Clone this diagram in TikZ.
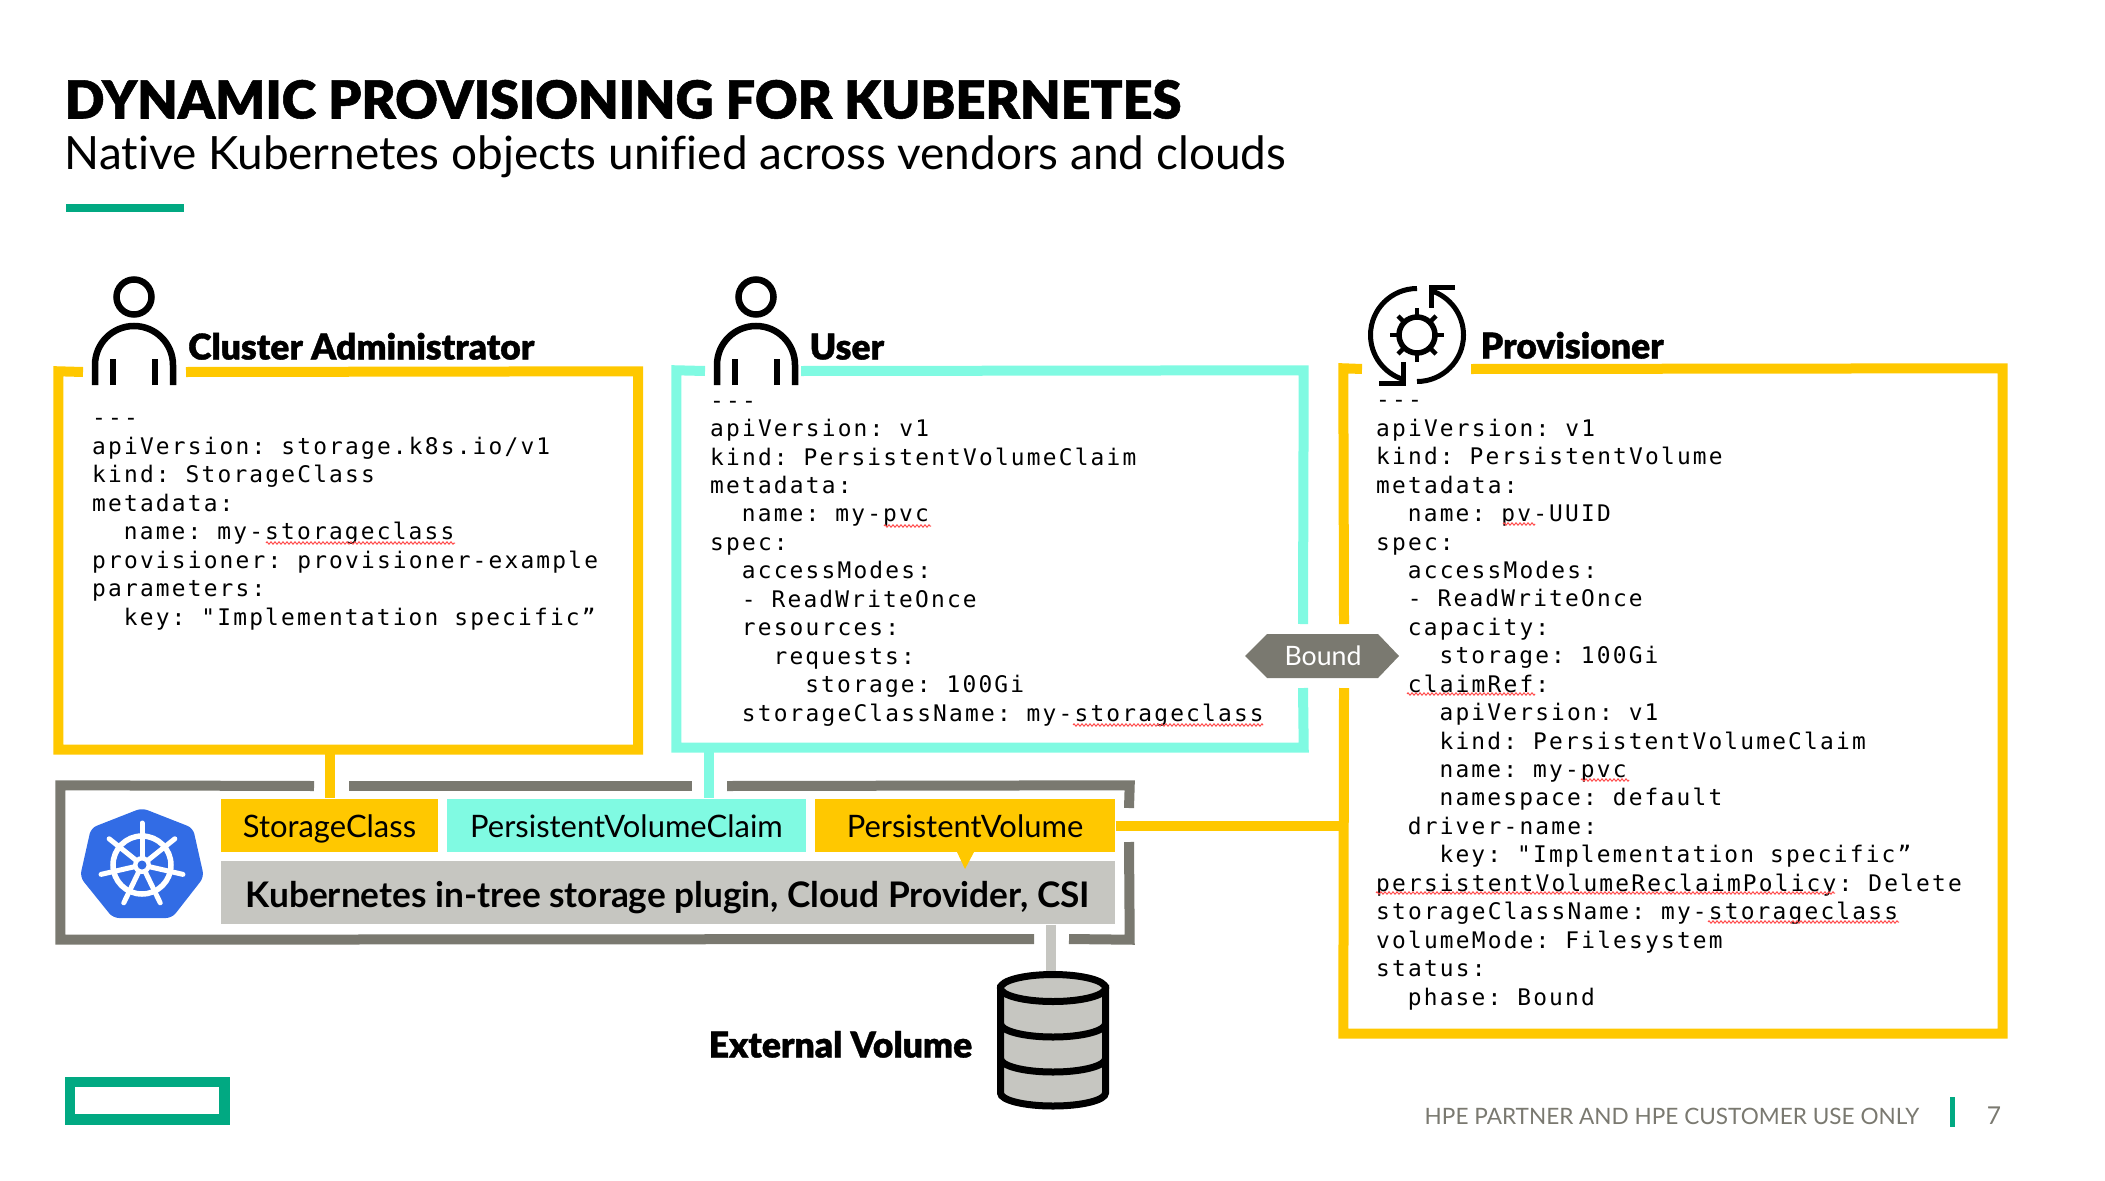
\documentclass[tikz,border=0pt]{standalone}
\usepackage{fontspec}
\usetikzlibrary{decorations.pathmorphing}
\setmainfont{Lato}[Ligatures={TeX,NoCommon}]
\newfontfamily\heavyfont[FakeBold=1]{Lato Black}
\newfontfamily\yamlfont[LetterSpace=9.6]{DejaVu Sans Mono}
\definecolor{hpeyellow}{HTML}{FFC800}
\definecolor{hpeteal}{HTML}{80FAE2}
\definecolor{hpegray}{HTML}{7A7970}
\definecolor{hpelight}{HTML}{C6C6C1}
\definecolor{hpegreen}{HTML}{01A982}
\definecolor{kubeblue}{HTML}{326CE5}
\newcommand{\yamltab}{\hspace*{0.317cm}}
\tikzset{
  framenode/.style={rectangle,inner sep=0pt,minimum width=#1},
  yellowline/.style={draw=hpeyellow,line width=0.1cm},
  tealline/.style={draw=hpeteal,line width=0.1cm},
  grayline/.style={draw=hpegray,line width=0.1cm},
  lightline/.style={draw=hpelight,line width=0.1cm},
  tabnode/.style={rectangle,inner sep=0pt,minimum height=0.53cm,text height=0.28cm,text depth=0.05cm,font=\fontsize{8.8}{10}\selectfont},
  yamltext/.style={anchor=base west,inner sep=0pt,align=left,font=\yamlfont\frenchspacing\fontsize{6.5}{8.09}\selectfont},
  heading/.style={anchor=base west,inner sep=0pt,font=\heavyfont\fontsize{10.1}{12}\selectfont},
  spellmark/.style={draw=red!70!white,line width=0.01cm,decorate,decoration={zigzag,amplitude=0.012cm,segment length=0.04cm}},
  iconline/.style={draw=black,line width=0.065cm},
}
\newcommand{\personicon}[1]{
  \begin{scope}[shift={#1}]
    \draw[iconline] (0,0) circle (0.175);
    \draw[iconline] (-0.39,-0.88) -- (-0.39,-0.68) arc[start angle=180,end angle=0,radius=0.39] -- (0.39,-0.88);
    \draw[iconline] (-0.21,-0.88) -- (-0.21,-0.62);
    \draw[iconline] (0.21,-0.88) -- (0.21,-0.62);
  \end{scope}
}

\begin{document}
\begin{tikzpicture}
\useasboundingbox (0,0) rectangle (21.05,-11.81);
%Title
\node[anchor=base west,inner sep=0pt,font=\heavyfont\fontsize{14.9}{18}\selectfont] (title) at (0.64,-1.185) {DYNAMIC PROVISIONING FOR KUBERNETES};
\node[anchor=base west,inner sep=0pt,font=\fontsize{13.06}{16}\selectfont] (subtitle) at (0.64,-1.70) {Native Kubernetes objects unified across vendors and clouds};
\fill[hpegreen] (0.66,-2.04) rectangle (1.84,-2.12);

%Boxes
\node[framenode=5.785cm,minimum height=3.77cm] (adminbox) at (3.4825,-5.605) {};
\node[framenode=6.26cm,minimum height=3.76cm] (userbox) at (9.9,-5.59) {};
\node[framenode=6.58cm,minimum height=6.64cm] (provbox) at (16.73,-7.01) {};
\draw[yellowline] (0.83,-3.72) -- (adminbox.north west) -- (adminbox.south west) -- (adminbox.south east) -- (adminbox.north east) -- (1.86,-3.72);
\draw[tealline] (7.05,-3.71) -- (userbox.north west) -- (userbox.south west) -- (userbox.south east) -- (13.03,-6.88);
\draw[tealline] (13.03,-6.24) -- (userbox.north east) -- (8.01,-3.71);
\draw[yellowline] (13.62,-3.69) -- (provbox.north west) -- (13.44,-6.24);
\draw[yellowline] (13.44,-6.88) -- (provbox.south west) -- (provbox.south east) -- (provbox.north east) -- (14.71,-3.69);

%Icons
\personicon{(1.34,-2.97)}
\personicon{(7.56,-2.97)}
\begin{scope}[shift={(14.17,-3.35)}]
  \draw[draw=black,line width=0.05cm] (0,0.465) arc[start angle=90,end angle=253,radius=0.465];
  \draw[draw=black,line width=0.05cm] (0,-0.465) arc[start angle=-90,end angle=73,radius=0.465];
  \draw[draw=black,line width=0.05cm] (0.38,0.48) -- (0.14,0.48) -- (0.14,0.27);
  \draw[draw=black,line width=0.05cm] (-0.38,-0.48) -- (-0.14,-0.48) -- (-0.14,-0.27);
  \draw[draw=black,line width=0.045cm] (-0.27,0) -- (0.27,0);
  \draw[draw=black,line width=0.045cm] (0,-0.27) -- (0,0.27);
  \draw[draw=black,line width=0.045cm] (-0.19,-0.19) -- (0.19,0.19);
  \draw[draw=black,line width=0.045cm] (-0.19,0.19) -- (0.19,-0.19);
  \draw[draw=black,fill=white,line width=0.055cm] (0,0) circle (0.18);
\end{scope}

%Headings
\node[heading] (adminname) at (1.875,-3.595) {Cluster Administrator};
\node[heading] (username) at (8.09,-3.595) {User};
\node[heading] (provname) at (14.80,-3.585) {Provisioner};

%YAML
\node[yamltext] (adminyaml) at (0.915,-6.25) {---\\
apiVersion: storage.k8s.io/v1\\
kind: StorageClass\\
metadata:\\
\yamltab name: my-storageclass\\
provisioner: provisioner-example\\
parameters:\\
\yamltab key: "Implementation specific”};
\node[yamltext] (useryaml) at (7.095,-7.21) {---\\
apiVersion: v1\\
kind: PersistentVolumeClaim\\
metadata:\\
\yamltab name: my-pvc\\
spec:\\
\yamltab accessModes:\\
\yamltab - ReadWriteOnce\\
\yamltab resources:\\
\yamltab\yamltab requests:\\
\yamltab\yamltab\yamltab storage: 100Gi\\
\yamltab storageClassName: my-storageclass};
\node[yamltext] (provyaml) at (13.755,-10.05) {---\\
apiVersion: v1\\
kind: PersistentVolume\\
metadata:\\
\yamltab name: pv-UUID\\
spec:\\
\yamltab accessModes:\\
\yamltab - ReadWriteOnce\\
\yamltab capacity:\\
\yamltab\yamltab storage: 100Gi\\
\yamltab claimRef:\\
\yamltab\yamltab apiVersion: v1\\
\yamltab\yamltab kind: PersistentVolumeClaim\\
\yamltab\yamltab name: my-pvc\\
\yamltab\yamltab namespace: default\\
\yamltab driver-name:\\
\yamltab\yamltab key: "Implementation specific”\\
persistentVolumeReclaimPolicy: Delete\\
storageClassName: my-storageclass\\
volumeMode: Filesystem\\
status:\\
\yamltab phase: Bound};

%Spelling marks
\draw[spellmark] (2.66,-5.43) -- (4.55,-5.43);
\draw[spellmark] (8.84,-5.26) -- (9.31,-5.26);
\draw[spellmark] (10.73,-7.25) -- (12.63,-7.25);
\draw[spellmark] (15.03,-5.24) -- (15.35,-5.24);
\draw[spellmark] (14.07,-6.94) -- (15.35,-6.94);
\draw[spellmark] (15.81,-7.8) -- (16.29,-7.8);
\draw[spellmark] (13.76,-8.93) -- (18.35,-8.93);
\draw[spellmark] (17.08,-9.22) -- (18.99,-9.22);

%Bound
\fill[hpegray] (12.45,-6.56) -- (12.67,-6.34) -- (13.78,-6.34) -- (13.99,-6.56) -- (13.78,-6.78) -- (12.67,-6.78) -- cycle;
\node[inner sep=0pt,text=white,font=\fontsize{7.6}{9}\selectfont] (bound) at (13.23,-6.56) {Bound};

%Kubernetes frame
\node[framenode=10.68cm,minimum height=1.53cm] (k8sbox) at (5.95,-8.625) {};
\draw[grayline] (3.14,-7.86) -- (k8sbox.north west) -- (k8sbox.south west) -- (10.34,-9.39);
\draw[grayline] (3.49,-7.86) -- (6.92,-7.86);
\draw[grayline] (7.27,-7.86) -- (k8sbox.north east) -- (11.29,-8.08);
\draw[grayline] (11.29,-8.42) -- (k8sbox.south east) -- (10.69,-9.39);

%Tabs
\node[tabnode,fill=hpeyellow,minimum width=2.17cm] (storageclass) at (3.295,-8.255) {StorageClass};
\node[tabnode,fill=hpeteal,minimum width=3.59cm] (pvc) at (6.265,-8.255) {PersistentVolumeClaim};
\node[tabnode,fill=hpeyellow,minimum width=3cm] (pv) at (9.65,-8.255) {PersistentVolume};
\node[rectangle,inner sep=0pt,fill=hpelight,minimum width=8.94cm,minimum height=0.63cm,text height=0.32cm,text depth=0.03cm,font=\bfseries\fontsize{10.03}{12}\selectfont] (plugin) at (6.68,-8.925) {Kubernetes in-tree storage plugin, Cloud Provider, CSI};
\fill[hpeyellow] (9.57,-8.52) -- (9.74,-8.52) -- (9.65,-8.69) -- cycle;

%Connectors
\coordinate (userdrop) at (7.09,-7.47);
\coordinate (volumetop) at (10.51,-9.75);
\draw[yellowline] (storageclass.north) -- (storageclass.north |- adminbox.south);
\draw[tealline] (userdrop) -- (userdrop |- pvc.north);
\draw[yellowline] (pv.east) -- (pv.east -| provbox.west);
\draw[lightline] (plugin.south -| volumetop) -- (volumetop);

%Kubernetes logo
\fill[kubeblue,rounded corners=0.06cm] (1.42,-8.08) -- (1.93,-8.28) -- (2.04,-8.77) -- (1.72,-9.18) -- (1.13,-9.18) -- (0.80,-8.77) -- (0.91,-8.28) -- cycle;
\begin{scope}[shift={(1.42,-8.65)}]
  \draw[white,line width=0.055cm] (0,0) circle (0.29);
  \draw[white,line width=0.05cm,line cap=round] (0,0) -- (90:0.42);
  \draw[white,line width=0.05cm,line cap=round] (0,0) -- (141.4:0.42);
  \draw[white,line width=0.05cm,line cap=round] (0,0) -- (192.9:0.42);
  \draw[white,line width=0.05cm,line cap=round] (0,0) -- (244.3:0.42);
  \draw[white,line width=0.05cm,line cap=round] (0,0) -- (295.7:0.42);
  \draw[white,line width=0.05cm,line cap=round] (0,0) -- (347.1:0.42);
  \draw[white,line width=0.05cm,line cap=round] (0,0) -- (38.6:0.42);
  \fill[white] (0,0) circle (0.09);
  \fill[kubeblue] (0,0) circle (0.045);
\end{scope}

%External volume
\node[heading] (volumename) at (7.08,-10.575) {External Volume};
\draw[draw=black,fill=hpelight,line width=0.07cm] (10.005,-9.88) -- (10.005,-10.93) arc[start angle=180,end angle=360,x radius=0.525,y radius=0.13] -- (11.055,-9.88) -- cycle;
\draw[draw=black,fill=hpelight,line width=0.07cm] (10.53,-9.88) ellipse (0.525 and 0.135);
\draw[draw=black,line width=0.07cm] (10.005,-10.235) arc[start angle=180,end angle=360,x radius=0.525,y radius=0.135];
\draw[draw=black,line width=0.07cm] (10.005,-10.585) arc[start angle=180,end angle=360,x radius=0.525,y radius=0.135];

%Footer
\draw[draw=hpegreen,line width=0.105cm] (0.70,-10.82) rectangle (2.245,-11.195);
\node[anchor=base west,inner sep=0pt,text=hpegray,font=\fontsize{6.42}{8}\selectfont] (footer) at (14.24,-11.24) {HPE PARTNER AND HPE CUSTOMER USE ONLY};
\fill[hpegreen] (19.5,-10.97) rectangle (19.55,-11.27);
\node[anchor=base,inner sep=0pt,text=hpegray,font=\fontsize{7}{8}\selectfont] (pagenum) at (19.94,-11.24) {7};
\end{tikzpicture}
\end{document}
